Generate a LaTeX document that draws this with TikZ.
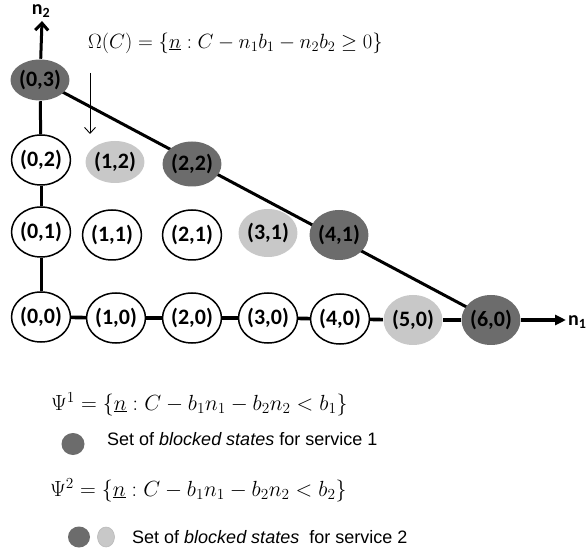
\RequirePackage{fix-cm}
\documentclass[tikz,border=0pt]{standalone}
\usepackage{fontspec}
\setmainfont{Liberation Serif}
\newfontfamily\nodefont{Carlito}
\newfontfamily\lblfont{Liberation Sans}
\usetikzlibrary{shapes.geometric,arrows.meta}
\definecolor{darkst}{HTML}{6C6C6C}
\definecolor{lightst}{HTML}{C8C8C8}
\begin{document}
\begin{tikzpicture}[x=1pt,y=-1pt,
  state/.style={ellipse, draw=black, line width=1.5pt, fill=white, minimum width=54, minimum height=50, inner sep=0pt, font=\nodefont\bfseries\fontsize{22}{22}\selectfont},
  dstate/.style={state, draw=none, fill=darkst, minimum width=56, minimum height=48},
  lstate/.style={state, draw=none, fill=lightst, minimum width=56, minimum height=48},
  edge/.style={line width=3.6pt, draw=black},
  vedge/.style={line width=3pt, draw=black},
  axislbl/.style={font=\nodefont\bfseries\fontsize{20}{20}\selectfont, inner sep=0pt},
  legtext/.style={font=\lblfont\fontsize{18}{18}\selectfont, anchor=west, inner sep=0pt},
  legdot/.style={ellipse, inner sep=0pt},
  formula/.style={font=\fontsize{21.9}{21.9}\selectfont, anchor=west, inner sep=0pt}
]
\useasboundingbox (0,0) rectangle (587,556);
% free ends of the axes
\coordinate (top) at (42,21);
\coordinate (end) at (566,320);
% diagonal first (behind nodes)
\coordinate (d1) at (40,80);
\coordinate (d2) at (491,320);
\draw[line width=3pt] (d1) -- (d2);
% nodes
\node[dstate, minimum height=41] (s03) at (40,80) {(0,3)};
\node[state] (s02) at (41,160) {(0,2)};
\node[lstate, minimum height=42] (s12) at (115,162) {(1,2)};
\node[dstate, minimum height=45] (s22) at (192,164) {(2,2)};
\node[state] (s01) at (41,232) {(0,1)};
\node[state] (s11) at (112,235) {(1,1)};
\node[state] (s21) at (192,235) {(2,1)};
\node[lstate] (s31) at (268,233) {(3,1)};
\node[dstate, minimum width=54, minimum height=50] (s41) at (339,235) {(4,1)};
\node[state] (s00) at (41,317) {(0,0)};
\node[state] (s10) at (116,318) {(1,0)};
\node[state] (s20) at (192,318) {(2,0)};
\node[state] (s30) at (268,318) {(3,0)};
\node[state] (s40) at (340,319) {(4,0)};
\node[lstate, minimum height=50] (s50) at (413,320) {(5,0)};
\node[dstate, minimum height=50] (s60) at (491,320) {(6,0)};
% axes
\draw[vedge, -{Straight Barb[length=7pt,width=13pt]}] (s03) -- (top);
\draw[vedge] (s03) -- (s02);
\draw[vedge] (s02) -- (s01);
\draw[vedge] (s01) -- (s00);
\draw[edge] (s00) -- (s10);
\draw[edge] (s10) -- (s20);
\draw[edge] (s20) -- (s30);
\draw[edge] (s30) -- (s40);
\draw[edge] (s40) -- (s50);
\draw[edge] (s50) -- (s60);
\draw[line width=3.2pt, -{Triangle[length=11pt,width=10pt]}] (s60) -- (end);
\node[axislbl] (n2) at (41,11) {n\textsubscript{2}};
\node[axislbl, anchor=west] (n1) at (568,322) {n\textsubscript{1}};
% small arrow
\coordinate (sa1) at (90,73);
\coordinate (sa2) at (90,134);
\draw[line width=0.9pt, -{Straight Barb[length=6pt,width=11pt]}] (sa1) -- (sa2);
% formulas
\node[formula, font=\fontsize{20.6}{20.6}\selectfont] (omega) at (88,43) {$\Omega(C)=\{\underline{n}:C-n_1b_1-n_2b_2\geq 0\}$};
\node[formula] (psi1) at (51,404) {$\Psi^1=\{\underline{n}:C-b_1n_1-b_2n_2<b_1\}$};
\node[formula] (psi2) at (50,490) {$\Psi^2=\{\underline{n}:C-b_1n_1-b_2n_2<b_2\}$};
% legend
\node[legdot, fill=darkst, minimum width=23, minimum height=22] (ld1) at (73,444) {};
\node[legtext] (lt1) at (107,439) {Set of \textit{blocked states} for service 1};
\node[legdot, fill=darkst, minimum width=22, minimum height=21] (ld2) at (79,537) {};
\node[legdot, fill=lightst, draw=gray!55, line width=0.6pt, minimum width=17, minimum height=20] (ld3) at (106,537) {};
\node[legtext] (lt2) at (132,537) {Set of \textit{blocked states} \ for service 2};
\end{tikzpicture}
\end{document}
